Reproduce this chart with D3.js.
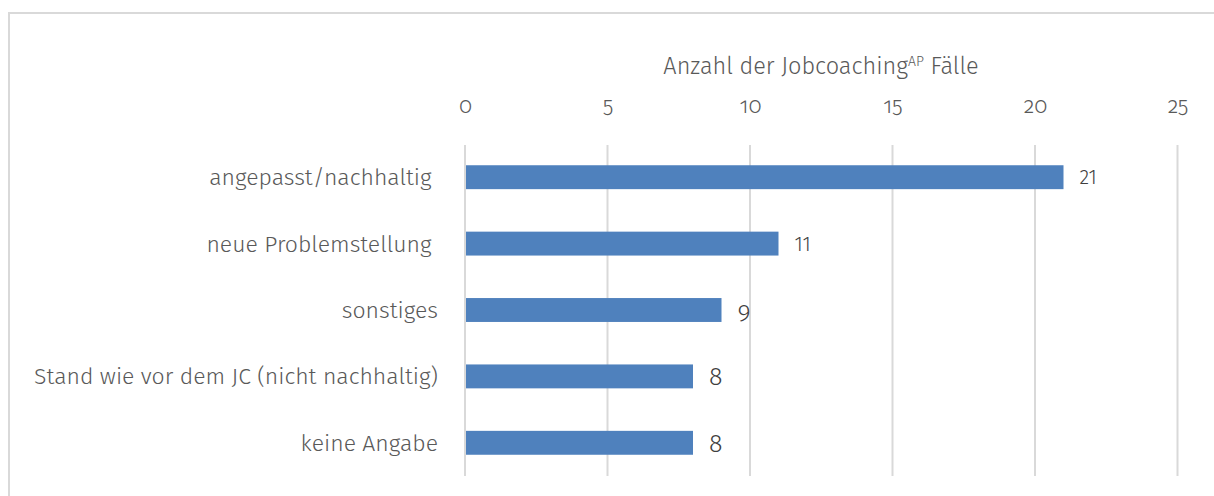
<!DOCTYPE html>
<html><head><meta charset="utf-8">
<script src="https://cdn.jsdelivr.net/npm/d3@7"></script>
<style>html,body{margin:0;padding:0;background:#fff;}svg{display:block;}</style>
</head><body>
<svg id="chart" width="1214" height="496"></svg>
<script>
const categories = ["angepasst/nachhaltig ", "neue Problemstellung ", "sonstiges", "Stand wie vor dem JC (nicht nachhaltig)", "keine Angabe"];
const values = [21, 11, 9, 8, 8];
const labelSizes = [20, 20, 25, 25, 25];
const tickValues = [0, 5, 10, 15, 20, 25];
const axisTitle = "Anzahl der Jobcoaching";
const axisTitleSup = "AP";
const axisTitleEnd = " Fälle";

const font = "'Fira Sans','Noto Sans','Open Sans',sans-serif";
const svg = d3.select("#chart");

svg.append("rect").attr("x", 9).attr("y", 13).attr("width", 1230).attr("height", 500)
  .attr("fill", "none").attr("stroke", "#d9d9d9").attr("stroke-width", 2);

const x = d3.scaleLinear().domain([0, 25]).range([465, 1177.5]);
const y = d3.scaleBand().domain(categories).range([144, 476]).paddingInner(0.64).paddingOuter(0.32);

// gridlines
svg.append("g").selectAll("line").data(tickValues).join("line")
  .attr("x1", d => x(d)).attr("x2", d => x(d)).attr("y1", 145).attr("y2", 476)
  .attr("stroke", "#d9d9d9").attr("stroke-width", 2);

// top axis labels
const axis = d3.axisTop(x).tickValues(tickValues).tickSize(0).tickPadding(0);
const ag = svg.append("g").attr("transform", "translate(0,113)").call(axis);
ag.select(".domain").remove();
ag.selectAll("text").attr("font-family", font).attr("font-size", 22).attr("fill", "#595959")
  .attr("dy", 0).style("font-variant-numeric", "oldstyle-nums").style("font-weight", 300);

// axis title
const t = svg.append("text").attr("x", 821).attr("y", 74).attr("text-anchor", "middle")
  .attr("font-family", font).attr("font-size", 23.5).attr("fill", "#595959").style("font-weight", 300);
t.append("tspan").text(axisTitle);
t.append("tspan").attr("font-size", 14).attr("dy", -8).text(axisTitleSup);
t.append("tspan").attr("dy", 8).text(axisTitleEnd);

// bars
svg.append("g").selectAll("rect").data(values).join("rect")
  .attr("x", x(0) + 1).attr("y", (d, i) => y(categories[i]))
  .attr("width", d => x(d) - x(0) - 1).attr("height", y.bandwidth())
  .attr("fill", "#4f81bd");

// category labels
svg.append("g").selectAll("text").data(categories).join("text")
  .attr("x", 438).attr("y", d => y(d) + y.bandwidth() / 2 + 8)
  .attr("text-anchor", "end").attr("font-family", font).attr("font-size", 23)
  .attr("fill", "#595959").style("font-weight", 300).style("white-space", "pre").attr("xml:space", "preserve").text(d => d);

// value labels
svg.append("g").selectAll("text").data(values).join("text")
  .attr("x", d => x(d) + 16).attr("y", (d, i) => y(categories[i]) + y.bandwidth() / 2 + (labelSizes[i] > 21 ? 9 : 7))
  .attr("font-family", font).attr("font-size", (d, i) => labelSizes[i])
  .style("font-variant-numeric", (d, i) => labelSizes[i] > 21 ? "oldstyle-nums" : "normal")
  .attr("fill", "#404040").style("font-weight", 300).text(d => d);
</script>
</body></html>
